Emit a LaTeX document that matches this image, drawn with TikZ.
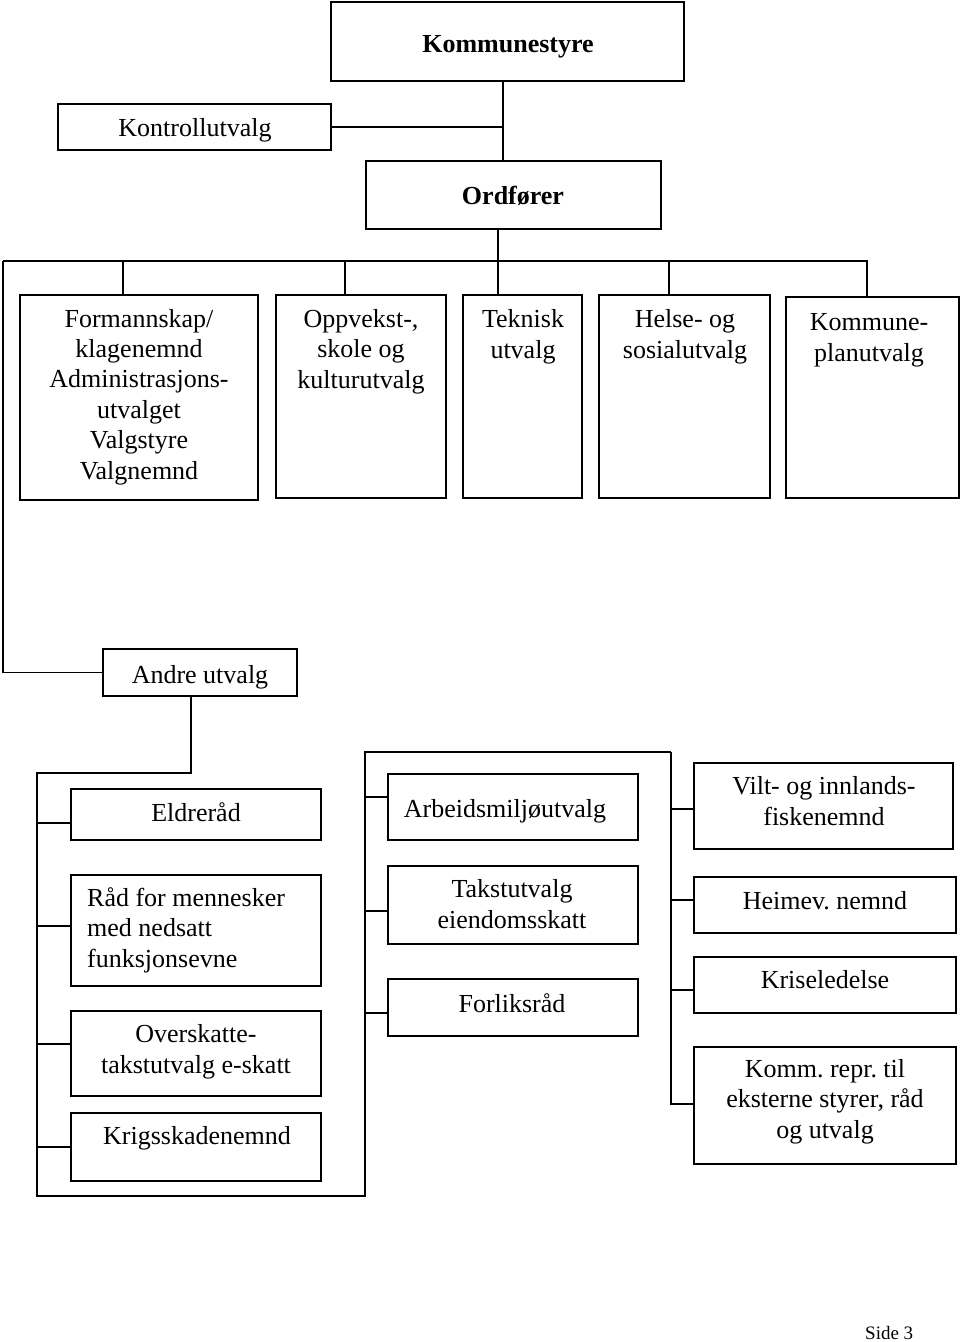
\documentclass[tikz,border=0pt]{standalone}
\usepackage{fontspec}
\setmainfont{Liberation Serif}
\frenchspacing
\begin{document}
\begin{tikzpicture}[x=1pt,y=-1pt,
  box/.style={draw, line width=1.8pt, inner sep=0pt},
  conn/.style={line width=1.8pt},
  lbl/.style={inner sep=0pt, align=center, anchor=base, font=\fontsize{26}{30.4}\selectfont},
  lblL/.style={inner sep=0pt, align=left, anchor=base west, font=\fontsize{26}{30.4}\selectfont}]
\useasboundingbox (0,0) rectangle (960,1342);
% top boxes
\node[box, minimum width=353, minimum height=79] (ks) at (507.5,41.5) {};
\node[box, minimum width=273, minimum height=46] (kontroll) at (194.5,127) {};
\node[box, minimum width=295, minimum height=68] (ord) at (513.5,195) {};
\node[lbl, font=\fontsize{26}{30.4}\selectfont\bfseries] (tks) at (508,52) {Kommunestyre};
\node[lbl] (tkontroll) at (195,136) {Kontrollutvalg};
\node[lbl, font=\fontsize{26}{30.4}\selectfont\bfseries] (tord) at (513,204) {Ordfører};
% second row
\node[box, minimum width=238, minimum height=205] (form) at (139,397.5) {};
\node[box, minimum width=170, minimum height=203] (opp) at (361,396.5) {};
\node[box, minimum width=119, minimum height=203] (tek) at (522.5,396.5) {};
\node[box, minimum width=171, minimum height=203] (hel) at (684.5,396.5) {};
\node[box, minimum width=173, minimum height=201] (kom) at (872.5,397.5) {};
\node[lbl] (tform) at (139,479) {Formannskap/\\klagenemnd\\Administrasjons-\\utvalget\\Valgstyre\\Valgnemnd};
\node[lbl] (topp) at (361,388) {Oppvekst-,\\skole og\\kulturutvalg};
\node[lbl] (ttek) at (523,358) {Teknisk\\utvalg};
\node[lbl] (thel) at (685,358) {Helse- og\\sosialutvalg};
\node[lbl] (tkom) at (869,361) {Kommune-\\planutvalg};
% Andre utvalg
\node[box, minimum width=194, minimum height=47] (andre) at (200,672.5) {};
\node[lbl] (tandre) at (200,683) {Andre utvalg};
% left column
\node[box, minimum width=250, minimum height=51] (eld) at (196,814.5) {};
\node[box, minimum width=250, minimum height=111] (rad) at (196,930.5) {};
\node[box, minimum width=250, minimum height=85] (over) at (196,1053.5) {};
\node[box, minimum width=250, minimum height=68] (krig) at (196,1147) {};
\node[lbl] (teld) at (196,821) {Eldreråd};
\node[lblL] (trad) at (87,967) {Råd for mennesker\\med nedsatt\\funksjonsevne};
\node[lbl] (tover) at (196,1073) {Overskatte-\\takstutvalg e-skatt};
\node[lbl] (tkrig) at (197,1144) {Krigsskadenemnd};
% middle column
\node[box, minimum width=250, minimum height=66] (arb) at (513,807) {};
\node[box, minimum width=250, minimum height=78] (tak) at (513,905) {};
\node[box, minimum width=250, minimum height=57] (forl) at (513,1007.5) {};
\node[lbl] (tarb) at (505,817) {Arbeidsmiljøutvalg};
\node[lbl] (ttak) at (512,928) {Takstutvalg\\eiendomsskatt};
\node[lbl] (tforl) at (512,1012) {Forliksråd};
% right column
\node[box, minimum width=259, minimum height=86] (vilt) at (823.5,806) {};
\node[box, minimum width=262, minimum height=56] (heim) at (825,905) {};
\node[box, minimum width=262, minimum height=56] (krise) at (825,985) {};
\node[box, minimum width=262, minimum height=117] (kommr) at (825,1105.5) {};
\node[lbl] (tvilt) at (824,825) {Vilt- og innlands-\\fiskenemnd};
\node[lbl] (theim) at (825,909) {Heimev. nemnd};
\node[lbl] (tkrise) at (825,988) {Kriseledelse};
\node[lbl] (tkommr) at (825,1138) {Komm. repr. til\\eksterne styrer, råd\\og utvalg};
% page number
\node[inner sep=0pt, anchor=base west, font=\fontsize{19}{22}\selectfont] (side) at (865,1339) {Side 3};
% connector coordinates
\coordinate (j1) at (503,127);
\coordinate (bar) at (498,261);
\coordinate (barL) at (3,261);
\coordinate (barR) at (867,261);
\coordinate (d1) at (123,261);
\coordinate (d2) at (345,261);
\coordinate (d4) at (669,261);
\coordinate (a1) at (191,773);
\coordinate (LT) at (37,773);
\coordinate (LB) at (37,1196);
\coordinate (MB) at (365,1196);
\coordinate (MT) at (365,752);
\coordinate (RT) at (671,752);
% top connectors
\draw[conn] (ks.south -| j1) -- (j1 |- ord.north);
\draw[conn] (kontroll.east) -- (j1);
\draw[conn] (ord.south -| bar) -- (bar |- tek.north);
\draw[conn] (barL) -- (barR) -- (barR |- kom.north);
\draw[conn] (d1) -- (d1 |- form.north);
\draw[conn] (d2) -- (d2 |- opp.north);
\draw[conn] (d4) -- (d4 |- hel.north);
\draw[conn] (barL) -- (barL |- andre.west) -- (andre.west);
% lower brackets
\draw[conn] (andre.south -| a1) -- (a1) -- (LT) -- (LB) -- (MB) -- (MT) -- (RT);
\path ([yshift=-8.5pt]eld.west) coordinate (t1)
      ([yshift=4.5pt]rad.west) coordinate (t2)
      ([yshift=9.5pt]over.west) coordinate (t3)
      (krig.west) coordinate (t4)
      ([yshift=10pt]arb.west) coordinate (t5)
      ([yshift=-6pt]tak.west) coordinate (t6)
      ([yshift=-5.5pt]forl.west) coordinate (t7)
      ([yshift=-3pt]vilt.west) coordinate (t8)
      ([yshift=5pt]heim.west) coordinate (t9)
      ([yshift=-5pt]krise.west) coordinate (t10)
      ([yshift=1.5pt]kommr.west) coordinate (t11);
\draw[conn] (t1 -| LT) -- (t1);
\draw[conn] (t2 -| LT) -- (t2);
\draw[conn] (t3 -| LT) -- (t3);
\draw[conn] (t4 -| LT) -- (t4);
\draw[conn] (t5 -| MT) -- (t5);
\draw[conn] (t6 -| MT) -- (t6);
\draw[conn] (t7 -| MT) -- (t7);
\draw[conn] (RT) -- (RT |- t11) -- (t11);
\draw[conn] (t8 -| RT) -- (t8);
\draw[conn] (t9 -| RT) -- (t9);
\draw[conn] (t10 -| RT) -- (t10);
\end{tikzpicture}
\end{document}
